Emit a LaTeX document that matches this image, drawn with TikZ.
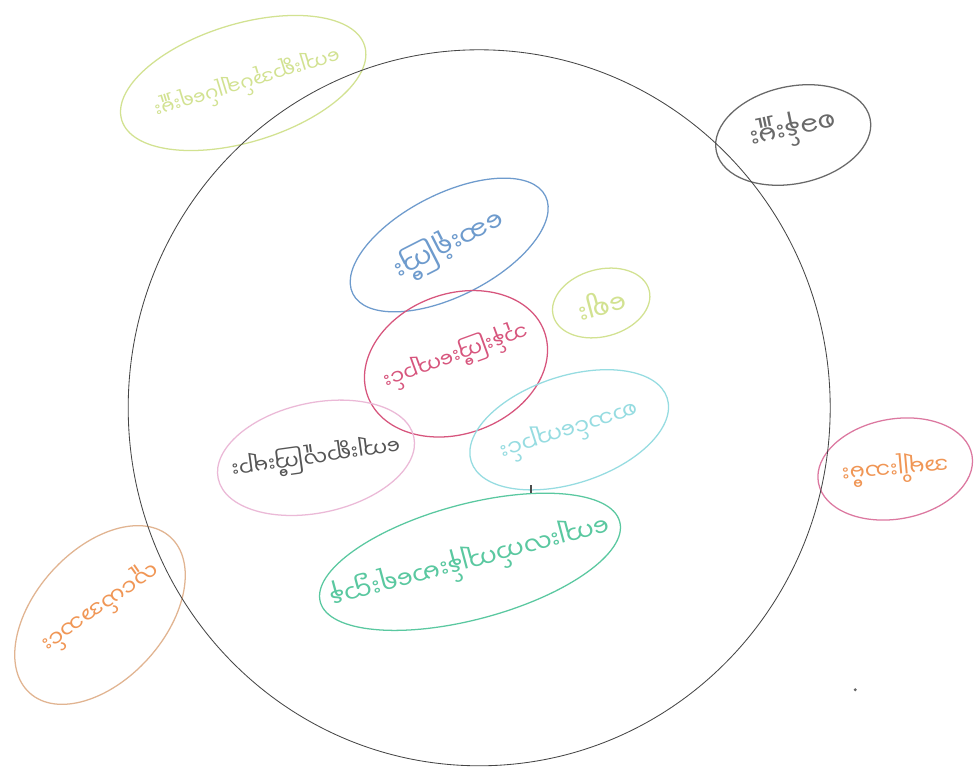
\documentclass[tikz,border=0pt]{standalone}
\usepackage{fontspec}
\newfontfamily\mmfont[Script=Myanmar]{Noto Sans Myanmar UI}
\usetikzlibrary{shapes.geometric}
\definecolor{ringgrey}{RGB}{70,70,70}
\definecolor{limepen}{RGB}{210,226,145}
\definecolor{greypen}{RGB}{105,105,105}
\definecolor{bluepen}{RGB}{110,155,205}
\definecolor{rosepen}{RGB}{215,85,125}
\definecolor{cyanpen}{RGB}{150,220,225}
\definecolor{blushpen}{RGB}{235,185,215}
\definecolor{textgrey}{RGB}{85,85,85}
\definecolor{mintpen}{RGB}{90,200,160}
\definecolor{orangepen}{RGB}{240,150,85}
\definecolor{peachpen}{RGB}{225,180,145}
\definecolor{pinkpen}{RGB}{220,120,160}

\begin{document}
\begin{tikzpicture}[
    blob/.style={draw,ellipse,line width=0.9pt,inner sep=0pt},
    word/.style={font=\mmfont\fontsize{#1}{#1}\selectfont,inner sep=0pt},
    word/.default=14
  ]
    \fill[white] (0,0) rectangle (24.45,19.225);
    \useasboundingbox (0,0) rectangle (24.45,19.225);

    \node[blob,draw=limepen,rotate=17,minimum width=6.35cm,minimum height=2.95cm] (admin) at (6.08,17.15) {};
    \node[word,text=limepen,rotate=197] (adminT) at ([xshift=0.1cm]admin.center) {ကျေးရွာအုပ်ချုပ်ရေးမှူး};

    \node[blob,draw=greypen,rotate=12,minimum width=3.93cm,minimum height=2.43cm] (station) at (19.83,15.85) {};
    \node[word=19,text=greypen,rotate=192] (stationT) at ([yshift=0.15cm]station.center) {စခန်းမှူး};

    \node[blob,draw=bluepen,rotate=27,minimum width=5.4cm,minimum height=2.55cm] (hospital) at (11.23,13.1) {};
    \node[word=19,text=bluepen,rotate=207] (hospitalT) at (hospital.center) {ဆေးရုံကြီး};

    \node[blob,draw=limepen,rotate=15,minimum width=2.48cm,minimum height=1.68cm] (market) at (15.03,11.65) {};
    \node[word=19,text=limepen,rotate=195] (marketT) at (market.center) {ဈေး};

    \node[blob,draw=rosepen,rotate=20,minimum width=4.7cm,minimum height=3.5cm] (monastery) at (11.4,10.13) {};
    \node[word=15,text=rosepen,rotate=200] (monasteryT) at ([yshift=0.2cm]monastery.center) {ဘုန်းကြီးကျောင်း};

    \node[blob,draw=cyanpen,rotate=18,minimum width=5.15cm,minimum height=2.68cm] (school) at (14.23,8.48) {};
    \node[word=16,text=cyanpen,rotate=198] (schoolT) at (school.center) {စာသင်ကျောင်း};

    \node[blob,draw=blushpen,rotate=12,minimum width=5.0cm,minimum height=2.75cm] (elders) at (7.9,7.78) {};
    \node[word=15,text=textgrey,rotate=188] (eldersT) at (elders.center) {ကျေးရွာလူကြီးများ};

    \node[blob,draw=mintpen,rotate=15,minimum width=7.75cm,minimum height=2.88cm] (health) at (11.75,5.18) {};
    \node[word=18,text=mintpen,rotate=195] (healthT) at (health.center) {ကျေးလက်ကျန်းမာရေးဌာန};

    \node[blob,draw=pinkpen,rotate=10,minimum width=3.9cm,minimum height=2.5cm] (women) at (22.38,7.5) {};
    \node[word=16,text=orangepen,rotate=185] (womenT) at (women.center) {အမျိုးသမီး};

    \node[blob,draw=peachpen,rotate=48,minimum width=5.25cm,minimum height=3.25cm] (youth) at (2.5,3.85) {};
    \node[word=16,text=orangepen,rotate=215] (youthT) at ([yshift=0.2cm]youth.center) {လူငယ်အသင်း};

    \node[blob,draw=ringgrey,line width=0.6pt,minimum width=17.55cm,minimum height=17.9cm] (village) at (11.98,9.03) {};

    \fill[black!70] (13.25,6.9) rectangle (13.29,7.1);
    \fill[black!60] (21.38,1.98) circle (0.04);
\end{tikzpicture}
\end{document}
